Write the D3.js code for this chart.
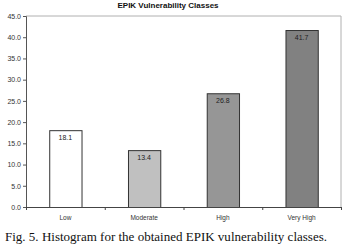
<!DOCTYPE html>
<html>
<head>
<meta charset="utf-8">
<script src="https://cdn.jsdelivr.net/npm/d3@7"></script>
<style>
body { margin: 0; background: #fff; }
svg { display: block; }
</style>
</head>
<body>
<script>
const WIDTH = 349;
const HEIGHT = 248;
const LEFT = 26, RIGHT = 341, TOP = 16, BOTTOM = 207;

const categories = ['Low', 'Moderate', 'High', 'Very High'];
const values = [18.1, 13.4, 26.8, 41.7];
const fills = ['#ffffff', '#c0c0c0', '#969696', '#818181'];
const yTicks = [0, 5, 10, 15, 20, 25, 30, 35, 40, 45];

var svg = d3.select('body')
	.append('svg')
	.attr('width', WIDTH)
	.attr('height', HEIGHT);

var xScale = d3.scaleBand().domain(categories).range([LEFT, RIGHT]).paddingInner(0.59).paddingOuter(0.295);
var yScale = d3.scaleLinear().domain([0, 45]).range([BOTTOM, TOP]);

// frame (top and right in light gray)
svg.append('path')
	.attr('d', 'M' + LEFT + ',' + TOP + 'H' + RIGHT + 'V' + BOTTOM)
	.attr('fill', 'none')
	.attr('stroke', '#b0b0b0')
	.attr('stroke-width', 1);

var yAxis = d3.axisLeft(yScale).tickValues(yTicks).tickSize(3).tickFormat(d3.format('.1f'));
var gy = svg.append('g')
	.attr('transform', 'translate(' + LEFT + ',0)')
	.call(yAxis);
gy.select('.domain').attr('stroke', '#555');
gy.selectAll('.tick line').attr('stroke', '#555');
gy.selectAll('.tick text')
	.attr('font-family', 'Arial, "Liberation Sans", sans-serif')
	.attr('font-size', 7)
	.attr('fill', '#333')
	.attr('x', -5);

// bars
var bars = svg.append('g');
bars.selectAll('rect')
	.data(values)
	.enter()
	.append('rect')
	.attr('x', function(d, i){ return xScale(categories[i]) + 0.5; })
	.attr('y', function(d){ return yScale(d) + 0.5; })
	.attr('width', xScale.bandwidth())
	.attr('height', function(d){ return yScale(0) - yScale(d); })
	.attr('fill', function(d, i){ return fills[i]; })
	.attr('stroke', '#333')
	.attr('stroke-width', 1);

bars.selectAll('text')
	.data(values)
	.enter()
	.append('text')
	.attr('x', function(d, i){ return xScale(categories[i]) + xScale.bandwidth() / 2; })
	.attr('y', function(d){ return yScale(d) + 10; })
	.attr('text-anchor', 'middle')
	.attr('font-family', 'Arial, "Liberation Sans", sans-serif')
	.attr('font-size', 7)
	.attr('fill', '#222')
	.text(function(d){ return d.toFixed(1); });

// x axis with ticks at category boundaries
var xLine = d3.scaleLinear().domain([0, 4]).range([LEFT, RIGHT]);
var xAxis = d3.axisBottom(xLine).ticks(4).tickSize(3).tickFormat('');
var gx = svg.append('g')
	.attr('transform', 'translate(0,' + BOTTOM + ')')
	.call(xAxis);
gx.select('.domain').attr('stroke', '#444');
gx.selectAll('.tick line').attr('stroke', '#444');

svg.append('g')
	.selectAll('text')
	.data(categories)
	.enter()
	.append('text')
	.attr('x', function(d){ return xScale(d) + xScale.bandwidth() / 2; })
	.attr('y', 220)
	.attr('text-anchor', 'middle')
	.attr('font-family', 'Arial, "Liberation Sans", sans-serif')
	.attr('font-size', 6.5)
	.attr('fill', '#333')
	.text(function(d){ return d; });

svg.append('text')
	.attr('x', 168)
	.attr('y', 8)
	.attr('text-anchor', 'middle')
	.attr('font-family', 'Arial, "Liberation Sans", sans-serif')
	.attr('font-weight', 'bold')
	.attr('font-size', 8)
	.attr('fill', '#111')
	.text('EPIK Vulnerability Classes');

svg.append('text')
	.attr('x', 5)
	.attr('y', 241)
	.attr('font-family', '"Liberation Serif", "Times New Roman", serif')
	.attr('font-size', 12.5)
	.attr('textLength', 322)
	.attr('lengthAdjust', 'spacingAndGlyphs')
	.attr('fill', '#111')
	.text('Fig. 5. Histogram for the obtained EPIK vulnerability classes.');
</script>
</body>
</html>
